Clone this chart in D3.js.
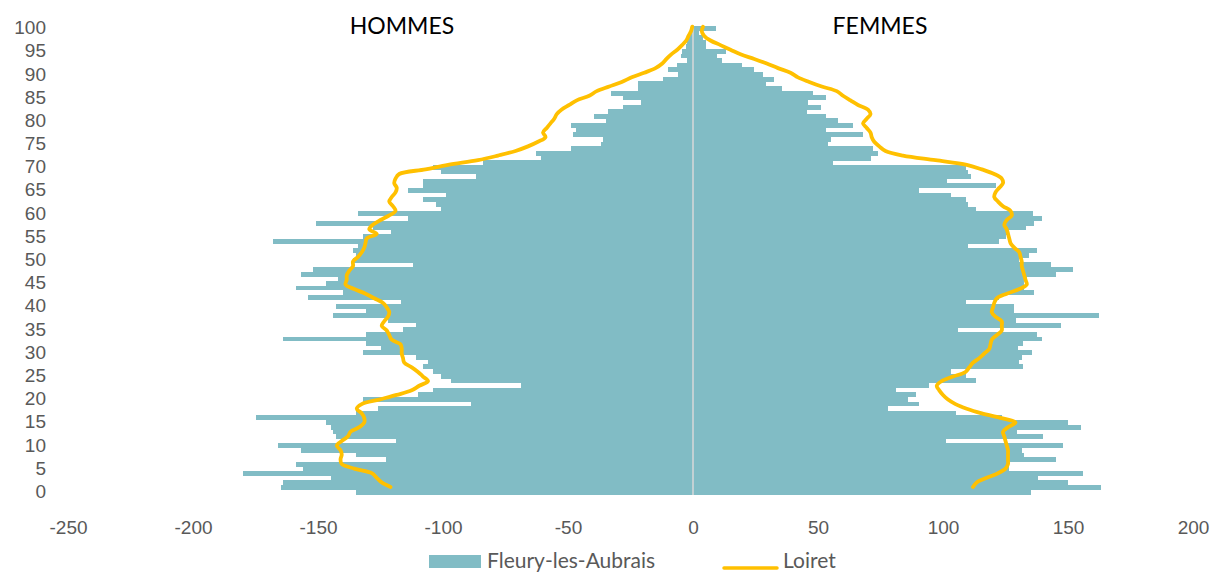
<!DOCTYPE html>
<html>
<head>
<meta charset="utf-8">
<script src="https://cdn.jsdelivr.net/npm/d3@7"></script>
<style>
  body { margin: 0; background: #fff; }
  svg { display: block; font-family: Lato, "Open Sans", sans-serif; }
  .tick text { fill: #595959; font-size: 19px; }
  .bars rect { shape-rendering: crispEdges; }
</style>
</head>
<body>
<div id="chart"></div>
<script>
// ages 0..100 (100 = 100 ans ou plus)
var ages = d3.range(0, 101);

// Fleury-les-Aubrais, hommes (negative) / femmes, par age 0..100
var hommes = [
  -135, -165, -164, -145, -180, -156, -159, -123, -135, -157,
  -166, -119, -143, -144, -145, -147, -175, -135, -126, -89,
  -132, -110, -104, -69, -97, -101, -104, -108, -106, -111,
  -132, -125, -131, -164, -131, -116, -111, -122, -144, -131,
  -143, -117, -154, -140, -159, -147, -142, -157, -152, -112,
  -136, -135, -136, -134, -168, -132, -121, -128, -151, -114,
  -134, -101, -103, -108, -99, -114, -108, -108, -87, -101,
  -104, -84, -61, -63, -49, -37, -36, -48, -47, -49,
  -35, -39.5, -34, -28, -21, -28, -33, -22, -22, -12,
  -6, -10, -6.5, -2.5, -5, -4.5, -3, -2.5, -2, -1,
  -0.5
];
var femmes = [
  135, 163, 150, 138, 156, 126.5, 125.5, 145, 132.5, 131.5,
  148, 101, 140, 129.5, 155, 150, 123.5, 105, 78, 90.5,
  86, 89, 81, 94.5, 113, 109, 103, 132, 130.5, 131.5,
  135.5, 130, 132, 139.5, 137.5, 106, 147, 129, 162.5, 128.5,
  128.5, 109, 122.5, 136.5, 132.5, 132.5, 133.5, 145, 152, 143,
  130.5, 134.5, 137.5, 110, 122.5, 125, 125.5, 133, 136.5, 139.5,
  136, 113, 110, 109, 103, 90.5, 121, 101.5, 111, 110,
  109, 56, 71, 74, 72, 54, 55, 68, 53, 64,
  58, 53, 45.5, 51, 46, 53, 48, 35.5, 29, 32.5,
  28, 24.5, 19.5, 11.5, 9.5, 13, 5, 5, 4, 2.5,
  9
];

// Loiret, pour comparaison
var loiretHommes = [
  -121, -124.5, -126.5, -128.5, -135.5, -140.5, -141, -140.5, -141, -142.5,
  -140.5, -138, -137, -133.5, -131.5, -131.5, -132.5, -134.5, -132.5, -125.5,
  -118.5, -112.5, -109.5, -106, -108, -110, -112.5, -115.5, -116, -116.5,
  -116.5, -117, -120.5, -121.5, -122.5, -124.5, -123.5, -122, -121.5, -122.5,
  -124, -127.5, -131, -135.5, -139, -138.5, -138.5, -137.5, -136, -136,
  -134, -132.5, -131.5, -131, -130.5, -126.5, -129.5, -128, -125, -121.5,
  -119, -120, -121.5, -120.5, -119, -118.5, -119.5, -119, -117.5, -107,
  -98, -86, -78, -71, -66, -62, -59, -60, -58.5, -57,
  -55.5, -54.5, -52.5, -49.5, -46.5, -41.5, -38.5, -33.5, -28.5, -24.5,
  -19.5, -15, -12.3, -10.6, -8.7, -6.3, -4.4, -2.7, -1.8, -0.8,
  -0.3
];
var loiretFemmes = [
  112, 113.5, 117.5, 122, 125, 126, 126, 126, 126, 125.5,
  125, 124.5, 124, 126, 129, 123, 115.5, 109.5, 105, 102,
  100, 98.5, 97.5, 99.5, 104, 109, 110.5, 112, 114.5, 116.5,
  118.5, 119, 119.5, 121.5, 123.5, 123.5, 123.5, 121, 119.5, 120,
  120.5, 121.5, 125.5, 130.5, 133.5, 133, 132.5, 132, 131.5, 131.5,
  131, 130.5, 128.5, 127, 126.5, 126, 125.5, 124.5, 125.5, 127.5,
  127, 124, 122, 120.5, 121, 122.5, 124, 123.5, 120.5, 115.5,
  109.5, 97, 84, 77, 74.5, 72.5, 71.5, 71, 69.5, 68,
  69.5, 71, 70, 66, 63, 60, 57.5, 51.5, 46.5, 42,
  39, 34, 29.5, 24.5, 19, 15, 11, 7, 4.5, 3.5,
  4
];

var xTicks = [-250, -200, -150, -100, -50, 0, 50, 100, 150, 200];
var yTicks = d3.range(0, 101, 5);

var colours = { bar: '#81bcc5', line: '#ffc000', zero: '#d9d9d9', text: '#595959' };

var width = 1215,
    height = 573;

var svg = d3.select('#chart').append('svg')
    .attr('width', width)
    .attr('height', height);

var xScale = d3.scaleLinear().domain([-250, 200]).range([68, 1193]);
var yBand = d3.scaleBand()
    .domain(ages.slice().reverse())
    .range([25.7, 494.3])
    .paddingInner(0);
// the Loiret series sits on its own (secondary) vertical scale
var yLine = d3.scaleLinear().domain([0, 100]).range([487, 26.7]);

// bars (a hair taller than the band so no seams show between ages)
var bars = svg.append('g').attr('class', 'bars');
bars.selectAll('.bar-h')
    .data(ages)
  .enter().append('rect')
    .attr('class', 'bar-h')
    .attr('x', function(a) { return xScale(hommes[a]); })
    .attr('y', function(a) { return yBand(a); })
    .attr('width', function(a) { return xScale(0) - xScale(hommes[a]); })
    .attr('height', yBand.bandwidth() + 0.3)
    .style('fill', colours.bar);
bars.selectAll('.bar-f')
    .data(ages)
  .enter().append('rect')
    .attr('class', 'bar-f')
    .attr('x', xScale(0))
    .attr('y', function(a) { return yBand(a); })
    .attr('width', function(a) { return xScale(femmes[a]) - xScale(0); })
    .attr('height', yBand.bandwidth() + 0.3)
    .style('fill', colours.bar);

// zero axis line on top of the bars
svg.append('line')
    .attr('x1', xScale(0)).attr('x2', xScale(0))
    .attr('y1', 25).attr('y2', 495)
    .style('stroke', colours.zero)
    .style('stroke-width', 1.5);

// Loiret lines
var loiret_line = d3.line()
    .curve(d3.curveCatmullRom.alpha(0.5))
    .x(function(d) { return xScale(d.v); })
    .y(function(d) { return yLine(d.a); });

[loiretHommes, loiretFemmes].forEach(function(serie) {
    svg.append('path')
        .attr('d', loiret_line(ages.map(function(a) { return { a: a, v: serie[a] }; })))
        .style('fill', 'none')
        .style('stroke', colours.line)
        .style('stroke-width', 3.8)
        .style('stroke-linejoin', 'round')
        .style('stroke-linecap', 'round');
});

// axes (plain hyphen for negatives, like the original)
var x_axis_elem = svg.append('g')
    .attr('class', 'x axis')
    .attr('transform', 'translate(0,527)')
    .call(d3.axisBottom(xScale).tickValues(xTicks).tickSize(0)
        .tickFormat(function(d) { return String(d); }));
x_axis_elem.select('.domain').remove();
x_axis_elem.selectAll('text').attr('y', 0).attr('dy', '0.35em');

var y_axis_elem = svg.append('g')
    .attr('class', 'y axis')
    .attr('transform', 'translate(49,0)')
    .call(d3.axisLeft(yBand).tickValues(yTicks).tickSize(0));
y_axis_elem.select('.domain').remove();

// titles
svg.append('text')
    .attr('x', 402).attr('y', 34)
    .style('text-anchor', 'middle')
    .style('font-size', '23px')
    .style('fill', '#000')
    .text('HOMMES');
svg.append('text')
    .attr('x', 880).attr('y', 34)
    .style('text-anchor', 'middle')
    .style('font-size', '23px')
    .style('fill', '#000')
    .text('FEMMES');

// legend
var legend = svg.append('g').attr('class', 'legend');
legend.append('rect')
    .attr('x', 429).attr('y', 555)
    .attr('width', 52).attr('height', 13)
    .style('fill', colours.bar);
legend.append('text')
    .attr('x', 487).attr('y', 568)
    .style('font-size', '21px')
    .style('fill', colours.text)
    .text('Fleury-les-Aubrais');
legend.append('line')
    .attr('x1', 724).attr('x2', 777)
    .attr('y1', 568).attr('y2', 568)
    .style('stroke', colours.line)
    .style('stroke-width', 3.5)
    .style('stroke-linecap', 'round');
legend.append('text')
    .attr('x', 783).attr('y', 568)
    .style('font-size', '21px')
    .style('fill', colours.text)
    .text('Loiret');
</script>
</body>
</html>
